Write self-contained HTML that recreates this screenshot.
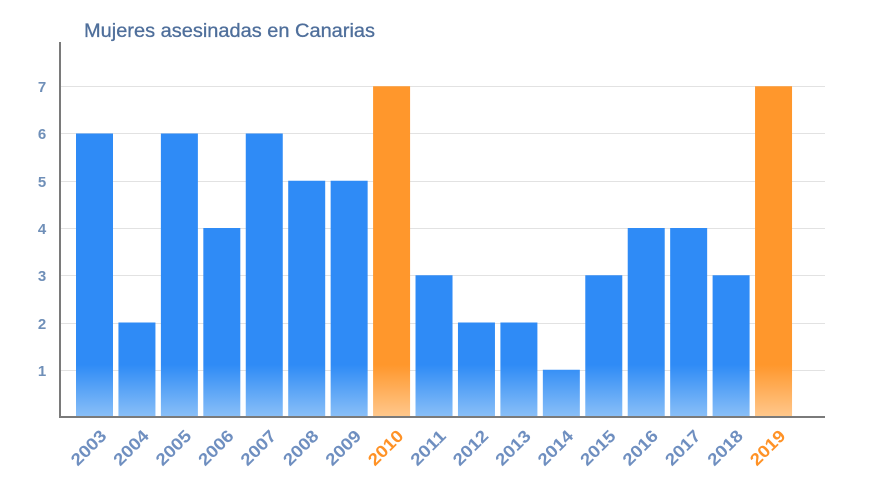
<!DOCTYPE html>
<html><head><meta charset="utf-8"><style>
html,body{margin:0;padding:0;background:#fff;}
svg{display:block;}
text{font-family:"Liberation Sans",sans-serif;}
</style></head><body>
<svg width="880" height="495" viewBox="0 0 880 495" xmlns="http://www.w3.org/2000/svg">
<defs>
<linearGradient id="gb" x1="0" y1="365" x2="0" y2="418" gradientUnits="userSpaceOnUse">
<stop offset="0" stop-color="#2f8bf6"/><stop offset="1" stop-color="#8cc0f7"/></linearGradient>
<linearGradient id="go" x1="0" y1="365" x2="0" y2="418" gradientUnits="userSpaceOnUse">
<stop offset="0" stop-color="#ff972c"/><stop offset="1" stop-color="#ffc98f"/></linearGradient>
</defs>
<text x="84" y="37" font-size="19" fill="#4f6f9b" stroke="#4f6f9b" stroke-width="0.3" textLength="291" lengthAdjust="spacingAndGlyphs">Mujeres asesinadas en Canarias</text>
<g stroke="#e2e2e2" stroke-width="1">
<line x1="60" x2="825" y1="86.5" y2="86.5"/><line x1="60" x2="825" y1="133.5" y2="133.5"/>
<line x1="60" x2="825" y1="181.5" y2="181.5"/><line x1="60" x2="825" y1="228.5" y2="228.5"/>
<line x1="60" x2="825" y1="275.5" y2="275.5"/><line x1="60" x2="825" y1="323.5" y2="323.5"/>
<line x1="60" x2="825" y1="370.5" y2="370.5"/>
</g>
<g font-size="15" font-weight="bold" fill="#6f8fb8" text-anchor="middle">
<text x="42" y="92">7</text><text x="42" y="139">6</text><text x="42" y="187">5</text>
<text x="42" y="234">4</text><text x="42" y="281">3</text><text x="42" y="329">2</text><text x="42" y="376">1</text>
</g>
<g id="bars"></g>
<g id="labels"></g>
<line x1="60" y1="42" x2="60" y2="417" stroke="#7a7a7a" stroke-width="2"/>
<line x1="59" y1="417" x2="825" y2="417" stroke="#7a7a7a" stroke-width="2"/>
<script>
var v=[6,2,6,4,6,5,5,7,3,2,2,1,3,4,4,3,7];
var b=document.getElementById('bars'),l=document.getElementById('labels');
var ns='http://www.w3.org/2000/svg';
for(var i=0;i<17;i++){
 var x=76+i*42.44, y=417-v[i]*47.25, o=(i==7||i==16);
 var r=document.createElementNS(ns,'rect');
 r.setAttribute('x',x);r.setAttribute('y',y);r.setAttribute('width',37);r.setAttribute('height',417-y);
 r.setAttribute('fill',o?'url(#go)':'url(#gb)');b.appendChild(r);
 var t=document.createElementNS(ns,'text');
 var cx=x+18.5+13, cy=437;
 t.setAttribute('x',cx);t.setAttribute('y',cy);t.setAttribute('text-anchor','end');
 t.setAttribute('font-size','17');t.setAttribute('font-weight','bold');
 t.setAttribute('textLength','42');t.setAttribute('lengthAdjust','spacingAndGlyphs');
 t.setAttribute('fill',o?'#ff9226':'#6f8fc0');
 t.setAttribute('transform','rotate(-45 '+cx+' '+cy+')');
 t.textContent=2003+i;l.appendChild(t);
}
</script>
</svg>
</body></html>
